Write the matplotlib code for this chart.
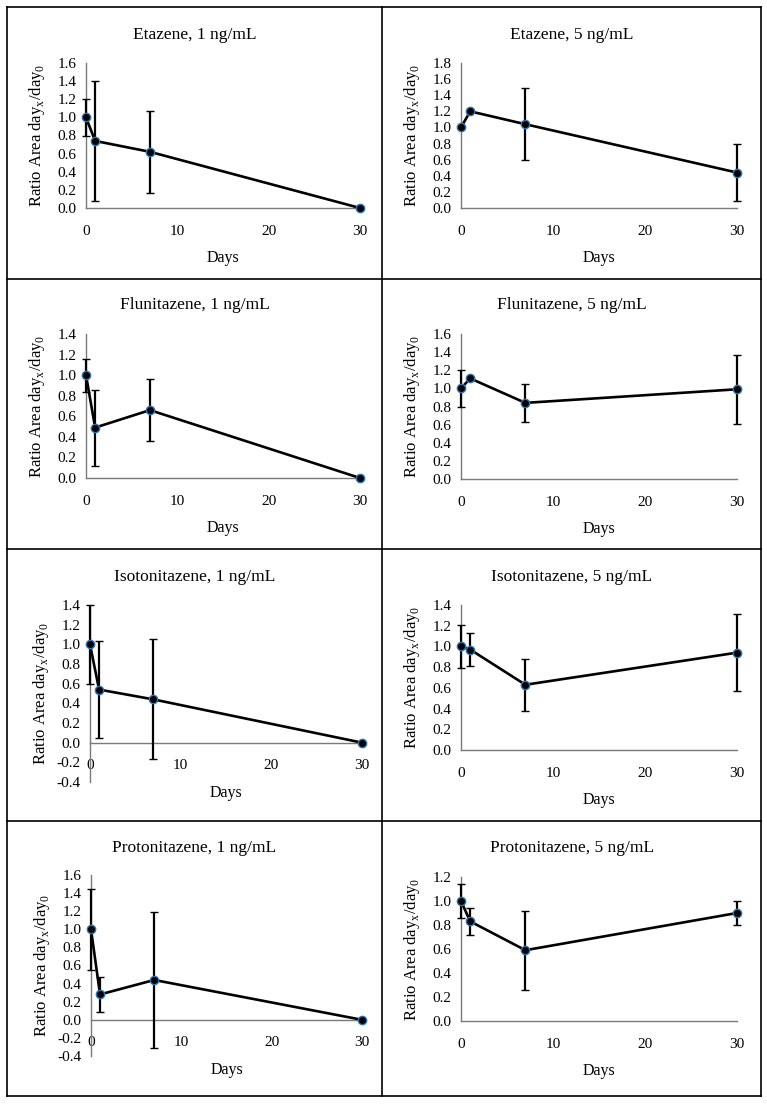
import matplotlib
matplotlib.use('Agg')
import matplotlib.pyplot as plt
from matplotlib.lines import Line2D
from matplotlib.ticker import FormatStrFormatter, MultipleLocator

plt.rcParams['font.family'] = 'Liberation Serif'
plt.rcParams['mathtext.fontset'] = 'custom'
plt.rcParams['mathtext.rm'] = 'Liberation Serif'
plt.rcParams['axes.unicode_minus'] = False

# Data
days = [0, 1, 7, 30]

titles = ['Etazene, 1 ng/mL', 'Etazene, 5 ng/mL',
          'Flunitazene, 1 ng/mL', 'Flunitazene, 5 ng/mL',
          'Isotonitazene, 1 ng/mL', 'Isotonitazene, 5 ng/mL',
          'Protonitazene, 1 ng/mL', 'Protonitazene, 5 ng/mL']

etazene_1 = [1.0, 0.74, 0.62, 0.0]
etazene_1_err = [0.2, 0.66, 0.45, 0.0]
etazene_5 = [1.0, 1.2, 1.04, 0.44]
etazene_5_err = [0.0, 0.0, 0.45, 0.35]
flunitazene_1 = [1.0, 0.49, 0.66, 0.0]
flunitazene_1_err = [0.16, 0.37, 0.30, 0.0]
flunitazene_5 = [1.0, 1.11, 0.84, 0.99]
flunitazene_5_err = [0.2, 0.0, 0.21, 0.38]
isotonitazene_1 = [1.0, 0.54, 0.44, 0.0]
isotonitazene_1_err = [0.4, 0.49, 0.61, 0.0]
isotonitazene_5 = [1.0, 0.97, 0.63, 0.94]
isotonitazene_5_err = [0.21, 0.16, 0.25, 0.37]
protonitazene_1 = [1.0, 0.28, 0.44, 0.0]
protonitazene_1_err = [0.45, 0.19, 0.75, 0.0]
protonitazene_5 = [1.0, 0.83, 0.59, 0.90]
protonitazene_5_err = [0.14, 0.11, 0.33, 0.10]

values = [etazene_1, etazene_5, flunitazene_1, flunitazene_5,
          isotonitazene_1, isotonitazene_5, protonitazene_1, protonitazene_5]
errors = [etazene_1_err, etazene_5_err, flunitazene_1_err, flunitazene_5_err,
          isotonitazene_1_err, isotonitazene_5_err, protonitazene_1_err, protonitazene_5_err]
ylims = [(0, 1.6), (0, 1.8), (0, 1.4), (0, 1.6),
         (-0.4, 1.4), (0, 1.4), (-0.4, 1.6), (0, 1.2)]

W, H = 767, 1106
fig = plt.figure(figsize=(W / 100, H / 100), dpi=100)

# axes boxes in pixels: left, right, top, bottom
boxes = [(86, 360, 63, 208), (461, 737, 63, 208),
         (86, 360, 334, 478), (461, 737, 334, 479),
         (90, 362, 605, 782), (461, 737, 605, 750),
         (91, 362, 875, 1056), (461, 737, 877, 1021)]
cell_x = [(7, 382), (382, 761)]
title_y = [35, 305, 577, 848]

axis_col = '#7a7a7a'

for i, (l, r, t, b) in enumerate(boxes):
    ax = fig.add_axes([l / W, 1 - b / H, (r - l) / W, (b - t) / H])
    ax.errorbar(days, values[i], yerr=errors[i], color='black', lw=1.9,
                ecolor='black', elinewidth=1.6, capsize=3, capthick=1.6,
                marker='o', ms=6, mfc='black', mec='#2e75b6', mew=1,
                clip_on=False, zorder=3)
    ax.set_xlim(0, 30)
    ax.set_ylim(*ylims[i])
    ax.xaxis.set_major_locator(MultipleLocator(10))
    ax.yaxis.set_major_locator(MultipleLocator(0.2))
    ax.yaxis.set_major_formatter(FormatStrFormatter('%.1f'))
    for s in ['top', 'right']:
        ax.spines[s].set_visible(False)
    for s in ['left', 'bottom']:
        ax.spines[s].set_color(axis_col)
        ax.spines[s].set_linewidth(1)
    if ylims[i][0] < 0:
        ax.spines['bottom'].set_position(('data', 0))
    ax.tick_params(axis='both', length=0, labelsize=11)
    ax.tick_params(axis='x', pad=12)
    ax.tick_params(axis='y', pad=7)
    ax.patch.set_visible(False)

    col = i % 2
    row = i // 2
    cx = (cell_x[col][0] + cell_x[col][1]) / 2
    fig.text(cx / W, 1 - title_y[row] / H, titles[i], ha='center', va='center', fontsize=12.5)
    # x label below the axis line
    y0 = b if ylims[i][0] >= 0 else b - (b - t) * (0 - ylims[i][0]) / (ylims[i][1] - ylims[i][0])
    fig.text((l + r) / 2 / W, 1 - (y0 + 50) / H, 'Days', ha='center', va='center', fontsize=11.5)
    fig.text((l - 49) / W, 1 - (t + b) / 2 / H,
             r'Ratio Area day$_\mathregular{x}$/day$_\mathregular{0}$',
             rotation=90, ha='center', va='center', fontsize=12)

# panel frame lines
lines = []
for x in [7, 382, 761]:
    lines.append(([x, x], [7, 1096]))
for y in [7, 279, 549, 821, 1096]:
    lines.append(([7, 761], [y, y]))
for xs, ys in lines:
    fig.add_artist(Line2D([v / W for v in xs], [1 - v / H for v in ys],
                          color='black', lw=1.2))

fig.savefig('out.png', dpi=100)
